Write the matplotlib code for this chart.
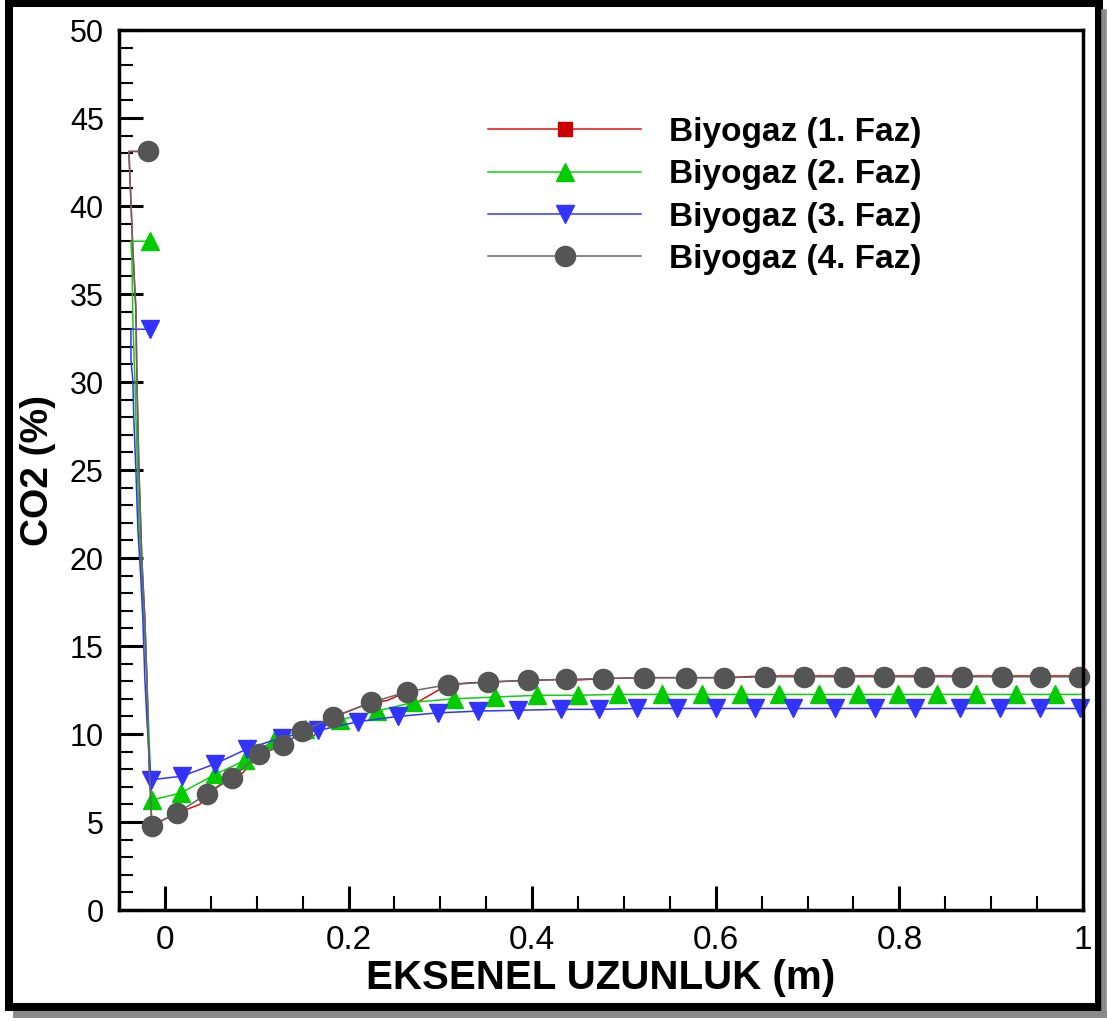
import matplotlib.pyplot as plt
from matplotlib.lines import Line2D
from matplotlib.patches import Rectangle
from matplotlib.ticker import MultipleLocator

# --- data (x in m, CO2 in %) ---
faz1_x = [-0.0185, -0.0392, -0.0349, -0.0316, -0.0305, -0.0283, -0.0251, -0.0218, -0.0196, -0.0174,
          -0.0142, 0.013, 0.038, 0.046, 0.058, 0.073, 0.085, 0.103, 0.129, 0.149, 0.158, 0.183,
          0.225, 0.242, 0.264, 0.275, 0.308, 0.33, 0.352, 0.395, 0.437, 0.45, 0.477, 0.522, 0.568,
          0.609, 0.654, 0.696, 0.740, 0.783, 0.827, 0.868, 0.912, 0.953, 0.996, 1.0]
faz1_y = [43.1, 43.1, 37.5, 34.1, 30.1, 25.0, 19.9, 16.5, 13.1, 8.5,
          4.8, 5.5, 6.0, 6.6, 7.05, 7.5, 7.8, 8.85, 9.35, 10.15, 9.7, 10.95,
          11.8, 11.9, 12.4, 11.8, 12.8, 12.9, 12.95, 13.05, 13.1, 13.07, 13.15, 13.2, 13.2,
          13.2, 13.3, 13.3, 13.3, 13.3, 13.3, 13.3, 13.3, 13.3, 13.3, 13.3]
faz1_marks = [0, 10, 11, 13, 15, 17, 18, 19, 21, 22, 24, 26, 28, 29, 30, 32, 33, 34,
              35, 36, 37, 38, 39, 40, 41, 42, 43, 44]

faz2_x = [-0.0163, -0.0370, -0.0359, -0.0349, -0.0327, -0.0305, -0.0283, -0.0240, -0.0196, -0.0163,
          -0.0142, 0.0174, 0.0545, 0.0871, 0.1198, 0.1525, 0.1906, 0.2309, 0.2702, 0.3148, 0.3595,
          0.4052, 0.4499, 0.4935, 0.5414, 0.5850, 0.6275, 0.6688, 0.7124, 0.7549, 0.7985, 0.8410,
          0.8834, 0.9270, 0.9695, 1.0]
faz2_y = [38.0, 38.0, 36.9, 33.5, 30.1, 26.1, 22.2, 17.6, 13.1, 8.5,
          6.25, 6.65, 7.7, 8.5, 9.7, 10.3, 10.8, 11.3, 11.8, 12.0, 12.1,
          12.2, 12.2, 12.25, 12.25, 12.25, 12.25, 12.25, 12.25, 12.25, 12.25, 12.25,
          12.25, 12.25, 12.25, 12.25]
faz2_marks = [0] + list(range(10, 35))

faz3_x = [-0.0163, -0.0370, -0.0370, -0.0349, -0.0338, -0.0316, -0.0294, -0.0261, -0.0240, -0.0218,
          -0.0196, -0.0153, 0.0185, 0.0545, 0.0893, 0.1275, 0.1667, 0.2102, 0.2538, 0.2974,
          0.3410, 0.3845, 0.4314, 0.4728, 0.5142, 0.5577, 0.6002, 0.6427, 0.6841, 0.7298,
          0.7734, 0.8170, 0.8660, 0.9096, 0.9532, 0.9967, 1.0]
faz3_y = [33.0, 33.0, 31.25, 30.1, 27.8, 25.0, 21.6, 18.75, 16.5, 13.1,
          10.8, 7.4, 7.6, 8.3, 9.15, 9.8, 10.2, 10.7, 11.0, 11.2,
          11.3, 11.35, 11.4, 11.4, 11.45, 11.45, 11.45, 11.45, 11.45, 11.45,
          11.45, 11.45, 11.45, 11.45, 11.45, 11.45, 11.45]
faz3_marks = [0] + list(range(11, 36))

faz4_x = [-0.0185, -0.0392, -0.0349, -0.0316, -0.0305, -0.0283, -0.0251, -0.0218, -0.0196, -0.0174,
          -0.0142, 0.013, 0.046, 0.073, 0.103, 0.129, 0.149, 0.183, 0.225, 0.264, 0.308, 0.352,
          0.395, 0.437, 0.477, 0.522, 0.568, 0.609, 0.654, 0.696, 0.740, 0.783, 0.827, 0.868,
          0.912, 0.953, 0.996, 1.0]
faz4_y = [43.1, 43.1, 37.5, 34.1, 30.1, 25.0, 19.9, 16.5, 13.1, 8.5,
          4.8, 5.5, 6.6, 7.5, 8.85, 9.35, 10.15, 10.95, 11.8, 12.4, 12.8, 12.95,
          13.05, 13.1, 13.15, 13.2, 13.2, 13.2, 13.25, 13.25, 13.25, 13.25, 13.25, 13.25,
          13.25, 13.25, 13.25, 13.25]
faz4_marks = [0] + list(range(10, 37))

labels = ['Biyogaz (1. Faz)', 'Biyogaz (2. Faz)', 'Biyogaz (3. Faz)', 'Biyogaz (4. Faz)']

W, H = 1107, 1021
fig = plt.figure(figsize=(W / 100, H / 100), dpi=100)
ax = fig.add_axes([119 / W, 1 - 910 / H, (1083 - 119) / W, (910 - 30) / H])

ax.plot(faz1_x, faz1_y, color='#e01010', lw=1.1, marker='s', ms=10, mfc='#cc0000', mec='#cc0000',
        markevery=faz1_marks, clip_on=False, label=labels[0])
ax.plot(faz2_x, faz2_y, color='#10d010', lw=1.1, marker='^', ms=13, mfc='#00cc00', mec='#00cc00',
        markevery=faz2_marks, clip_on=False, label=labels[1])
ax.plot(faz3_x, faz3_y, color='#3333ff', lw=1.1, marker='v', ms=13, mfc='#3333ff', mec='#3333ff',
        markevery=faz3_marks, clip_on=False, label=labels[2])
ax.plot(faz4_x, faz4_y, color='#666666', lw=1.1, marker='o', ms=14.5, mfc='#555555', mec='#555555',
        markevery=faz4_marks, clip_on=False, label=labels[3])

ax.set_xlim(-0.05, 1.0)
ax.set_ylim(0, 50)
ax.xaxis.set_minor_locator(MultipleLocator(0.05))
ax.yaxis.set_major_locator(MultipleLocator(5))
ax.yaxis.set_minor_locator(MultipleLocator(1))
ax.set_xticks([0, 0.2, 0.4, 0.6, 0.8, 1.0])
ax.set_xticklabels(['0', '0.2', '0.4', '0.6', '0.8', '1'])

for s in ax.spines.values():
    s.set_linewidth(2.5)
ax.tick_params(which='both', direction='in', top=False, right=False)
ax.tick_params(which='major', length=17, width=2.2, pad=11)
ax.tick_params(which='minor', length=10, width=1.5)
for t in ax.get_yticklabels():
    t.set_fontfamily('Liberation Sans')
    t.set_fontsize(22)
for t in ax.get_xticklabels():
    t.set_fontfamily('Liberation Sans')
    t.set_fontsize(24)

ax.set_xlabel('EKSENEL UZUNLUK (m)', family='Liberation Sans',
              fontweight='bold', fontsize=29, labelpad=2)
ax.set_ylabel('CO2 (%)', family='Liberation Sans', fontweight='bold', fontsize=28, labelpad=10)

leg = ax.legend(loc='upper left', bbox_to_anchor=(488 / W, 1 - 117 / H),
                bbox_transform=fig.transFigure, frameon=False, numpoints=1,
                handlelength=4.6, handletextpad=0.84, labelspacing=0.34,
                borderpad=0, borderaxespad=0,
                prop={'family': 'Liberation Sans', 'weight': 'bold', 'size': 24})

# outer frame with a grey drop shadow on the bottom and right
fig.add_artist(Line2D([16 / W, 1106 / W], [1 - 1014 / H, 1 - 1014 / H], transform=fig.transFigure,
                      lw=5, color='#8a8a8a'))
fig.add_artist(Line2D([1104 / W, 1104 / W], [1 - 12 / H, 1 - 1014 / H], transform=fig.transFigure,
                      lw=4, color='#8a8a8a'))
fig.add_artist(Rectangle((9 / W, 1 - 1007 / H), 1090 / W, 1004 / H, transform=fig.transFigure,
                         fill=False, lw=5.8, ec='black'))

fig.savefig('out.png', dpi=100)
